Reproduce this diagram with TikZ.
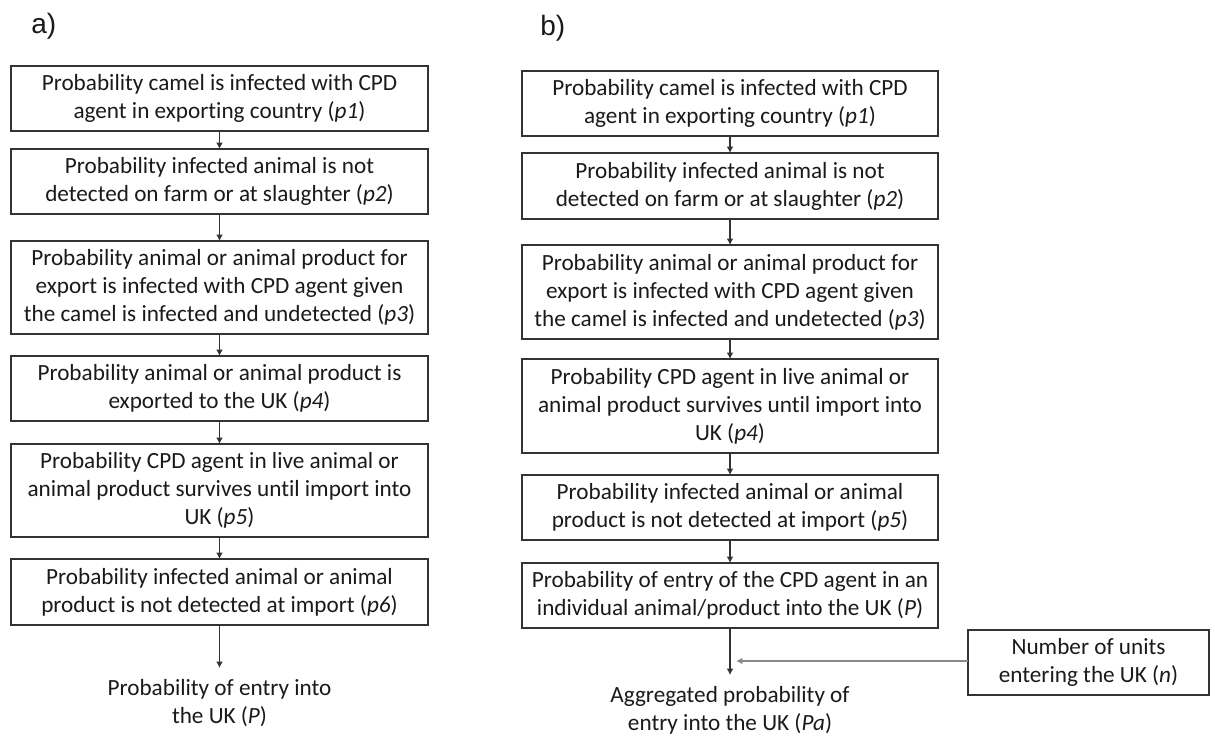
\documentclass[tikz,border=0pt]{standalone}
\usepackage{fontspec}
\setmainfont{Carlito}[Ligatures=NoCommon]
\newfontfamily\labelfont{Liberation Sans}
\usetikzlibrary{arrows.meta}
\definecolor{edge}{HTML}{333333}
\definecolor{txt}{HTML}{1A1A1A}
\definecolor{thin}{HTML}{888888}
\begin{document}
\begin{tikzpicture}[x=0.5pt,y=-0.5pt,
  every node/.style={text=txt,font=\fontsize{11.6}{14}\selectfont},
  pbox/.style={draw=edge,line width=1.1pt,align=center,inner sep=0pt,outer sep=0pt,minimum height=#1*0.5pt},
  lbox/.style={pbox=#1,minimum width=417*0.5pt},
  rbox/.style={pbox=#1,minimum width=416*0.5pt},
  flow/.style={draw=edge,line width=0.95pt,-{Latex[length=3.2pt,width=3.4pt]}},
  side/.style={draw=thin,line width=0.7pt,-{Latex[length=3.2pt,width=3.4pt]}},
  endtext/.style={align=center,inner sep=0pt},
  panel/.style={font=\labelfont\fontsize{14}{16}\selectfont,inner sep=0pt,anchor=base west}]
\useasboundingbox (0,0) rectangle (1215,735);
\fill[white] (0,0) rectangle (1215,735);
% panel labels
\node[panel] (la) at (31,33) {a)};
\node[panel] (lb) at (540,35) {b)};
% left column
\node[lbox=65] (L1) at (219.5,98.5) {Probability camel is infected with CPD\\agent in exporting country (\textit{p1})};
\node[lbox=65] (L2) at (219.5,181.5) {Probability infected animal is not\\detected on farm or at slaughter (\textit{p2})};
\node[lbox=93] (L3) at (219.5,287.5) {Probability animal or animal product for\\export is infected with CPD agent given\\the camel is infected and undetected (\textit{p3})};
\node[lbox=65] (L4) at (219.5,388.5) {Probability animal or animal product is\\exported to the UK (\textit{p4})};
\node[lbox=93] (L5) at (219.5,490.5) {Probability CPD agent in live animal or\\animal product survives until import into\\UK (\textit{p5})};
\node[lbox=66] (L6) at (219.5,592) {Probability infected animal or animal\\product is not detected at import (\textit{p6})};
\node[endtext] (LE) at (219.5,703) {Probability of entry into\\the UK (\textit{P})};
\coordinate (LEtop) at (219.5,668);
\draw[flow] (L1) -- (L2);
\draw[flow] (L2) -- (L3);
\draw[flow] (L3) -- (L4);
\draw[flow] (L4) -- (L5);
\draw[flow] (L5) -- (L6);
\draw[flow] (L6) -- (LEtop);
% right column
\node[rbox=65] (R1) at (730,103.5) {Probability camel is infected with CPD\\agent in exporting country (\textit{p1})};
\node[rbox=66] (R2) at (730,186) {Probability infected animal is not\\detected on farm or at slaughter (\textit{p2})};
\node[rbox=94] (R3) at (730,292) {Probability animal or animal product for\\export is infected with CPD agent given\\the camel is infected and undetected (\textit{p3})};
\node[rbox=94] (R4) at (730,406) {Probability CPD agent in live animal or\\animal product survives until import into\\UK (\textit{p4})};
\node[rbox=65] (R5) at (730,507.5) {Probability infected animal or animal\\product is not detected at import (\textit{p5})};
\node[rbox=65] (R6) at (730,595.5) {Probability of entry of the CPD agent in an\\individual animal/product into the UK (\textit{P})};
\node[endtext] (RE) at (730,710.5) {Aggregated probability of\\entry into the UK (\textit{Pa})};
\coordinate (REtop) at (730,675);
\node[pbox=65,minimum width=241*0.5pt] (N) at (1088.5,662.5) {Number of units\\entering the UK (\textit{n})};
\coordinate (Nend) at (736,661);
\draw[flow] (R1) -- (R2);
\draw[flow] (R2) -- (R3);
\draw[flow] (R3) -- (R4);
\draw[flow] (R4) -- (R5);
\draw[flow] (R5) -- (R6);
\draw[flow] (R6) -- (REtop);
\draw[side] (N.west |- Nend) -- (Nend);
\end{tikzpicture}
\end{document}
